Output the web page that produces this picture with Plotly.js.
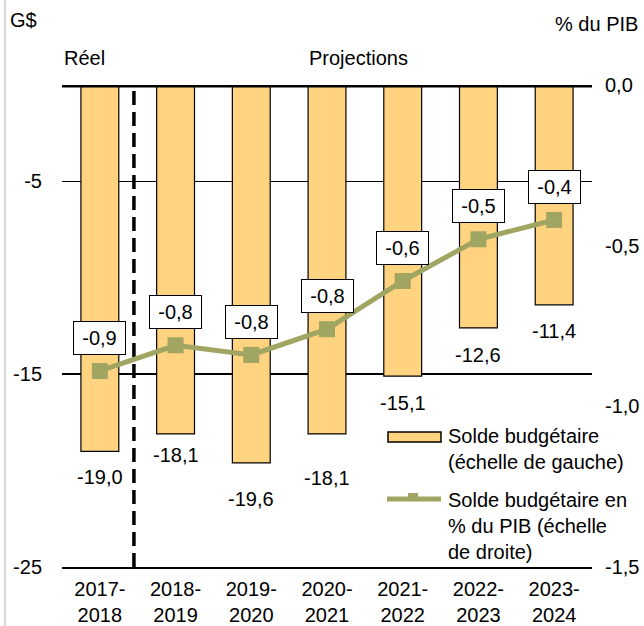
<!DOCTYPE html>
<html>
<head>
<meta charset="utf-8">
<script src="https://cdn.plot.ly/plotly-3.0.1.min.js"></script>
<style>html,body{margin:0;padding:0;background:#fff;}#chart{width:644px;height:626px;}</style>
</head>
<body>
<div id="chart"></div>
<script>
// ---- data ----
const categories = ['2017-2018','2018-2019','2019-2020','2020-2021','2021-2022','2022-2023','2023-2024'];
const tickLabels = ['2017-<br>2018','2018-<br>2019','2019-<br>2020','2020-<br>2021','2021-<br>2022','2022-<br>2023','2023-<br>2024'];
const soldeGS = [-19.0, -18.1, -19.6, -18.1, -15.1, -12.6, -11.4];
const soldePctPIB = [-0.89, -0.81, -0.84, -0.76, -0.61, -0.48, -0.42];
const leftTickVals = [-5, -15, -25];
const leftTickText = ['-5', '-15', '-25'];
const rightTickVals = [0, -0.5, -1.0, -1.5];
const rightTickText = ['0,0', '-0,5', '-1,0', '-1,5'];
const barLegend = 'Solde budgétaire<br>(échelle de gauche)';
const lineLegend = 'Solde budgétaire en<br>% du PIB (échelle<br>de droite)';

// ---- styling ----
const FONT = 'Liberation Sans, Arial, sans-serif';
const FS = 20;
const BAR_COLOR = '#ffd37f';
const LINE_COLOR = '#a0a562';
const barLabelGap = [26, 21, 36, 44, 27, 27, 26]; // px from bar end to label centre (layout)

const fmt = v => v.toFixed(1).replace('.', ',');

const traces = [
  {
    type: 'bar', x: categories, y: soldeGS, yaxis: 'y',
    width: 0.5,
    marker: {color: BAR_COLOR, line: {color: '#000', width: 1.2}},
    hoverinfo: 'skip', showlegend: false
  },
  {
    type: 'scatter', mode: 'lines+markers', x: categories, y: soldePctPIB, yaxis: 'y2',
    line: {color: LINE_COLOR, width: 5},
    marker: {symbol: 'square', size: 16, color: LINE_COLOR},
    hoverinfo: 'skip', showlegend: false
  }
];

const annotations = [];
categories.forEach((c, i) => {
  annotations.push({
    xref: 'x', yref: 'y', x: c, y: soldeGS[i], text: fmt(soldeGS[i]),
    showarrow: false, yanchor: 'middle', xanchor: 'center', yshift: -barLabelGap[i],
    font: {family: FONT, size: FS, color: '#000'}
  });
  annotations.push({
    xref: 'x', yref: 'y2', x: c, y: soldePctPIB[i], text: fmt(soldePctPIB[i]),
    showarrow: false, yanchor: 'bottom', xanchor: 'center', yshift: 16,
    bgcolor: '#fff', bordercolor: '#000', borderwidth: 1, borderpad: 4,
    width: 43, height: 24,
    font: {family: FONT, size: FS, color: '#000'}
  });
});
const txt = (x, y, text, xa, ya) => ({
  xref: 'paper', yref: 'paper', x: x, y: y, text: text, showarrow: false,
  xanchor: xa, yanchor: ya, align: 'left', font: {family: FONT, size: FS, color: '#000'}
});
annotations.push(txt(-0.1019, 1.1349, 'G$', 'left', 'middle'));
annotations.push(txt(1.0906, 1.1266, '% du PIB', 'right', 'middle'));
annotations.push(txt(0.0, 1.056, 'Réel', 'left', 'middle'));
annotations.push(txt(0.5585, 1.056, 'Projections', 'center', 'middle'));
annotations.push(txt(0.7245, 0.2438, barLegend, 'left', 'middle'));
annotations.push(txt(0.7245, 0.0851, lineLegend, 'left', 'middle'));

const shapes = [
  // left light frame line
  {type: 'line', xref: 'paper', yref: 'paper', x0: -0.1075, x1: -0.1075, y0: -0.125, y1: 1.18,
   line: {color: '#d9d9d9', width: 2.5}},
  // dashed separator real / projections
  {type: 'line', xref: 'x', yref: 'paper', x0: 0.45, x1: 0.45, y0: 0, y1: 1, layer: 'below',
   line: {color: '#000', width: 3.5, dash: '14px,7px'}},
  // thick zero line
  {type: 'line', xref: 'paper', yref: 'y', x0: 0, x1: 1, y0: 0, y1: 0,
   line: {color: '#000', width: 5}},
  // legend swatches
  {type: 'rect', xref: 'paper', yref: 'paper', x0: 0.6151, x1: 0.7151, y0: 0.2593, y1: 0.2801,
   fillcolor: BAR_COLOR, line: {color: '#000', width: 1.5}},
  {type: 'line', xref: 'paper', yref: 'paper', x0: 0.6132, x1: 0.7151, y0: 0.1411, y1: 0.1411,
   line: {color: LINE_COLOR, width: 5}},
  {type: 'rect', xref: 'paper', yref: 'paper', x0: 0.6528, x1: 0.6717, y0: 0.1411, y1: 0.1535,
   fillcolor: LINE_COLOR, line: {width: 0}}
];

const layout = {
  width: 644, height: 626,
  margin: {l: 62, r: 52, t: 85, b: 59, pad: 0},
  paper_bgcolor: '#fff', plot_bgcolor: '#fff',
  font: {family: FONT, size: FS, color: '#000'},
  separators: ', ',
  showlegend: false,
  bargap: 0.5,
  xaxis: {
    type: 'category', tickvals: categories, ticktext: tickLabels,
    range: [-0.5, categories.length - 0.5],
    showgrid: false, zeroline: false, showline: true, linecolor: '#000', linewidth: 1.5,
    ticks: '', ticklabelstandoff: 3, tickfont: {family: FONT, size: FS}
  },
  yaxis: {
    range: [-25, 0], tickvals: leftTickVals, ticktext: leftTickText,
    showgrid: true, gridcolor: '#000', gridwidth: 1.5, zeroline: false, showline: false,
    ticks: '', ticklabelstandoff: 19, tickfont: {family: FONT, size: FS}
  },
  yaxis2: {
    range: [-1.5, 0], overlaying: 'y', side: 'right',
    tickvals: rightTickVals, ticktext: rightTickText,
    showgrid: false, zeroline: false, showline: false,
    ticks: '', ticklabelstandoff: 12, tickfont: {family: FONT, size: FS}
  },
  annotations: annotations,
  shapes: shapes
};

Plotly.newPlot('chart', traces, layout, {displayModeBar: false, staticPlot: true});
</script>
</body>
</html>
